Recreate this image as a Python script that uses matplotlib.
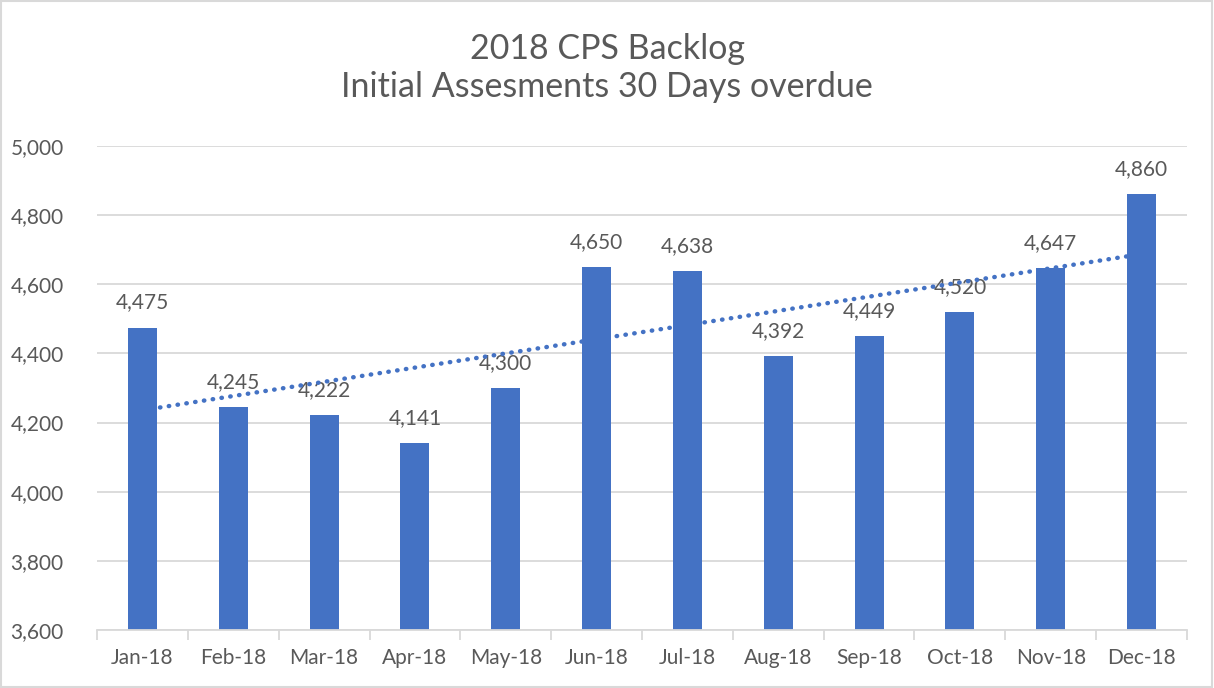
import matplotlib
matplotlib.use("Agg")
import matplotlib.pyplot as plt
import numpy as np
from matplotlib.patches import Rectangle

categories = ["Jan-18", "Feb-18", "Mar-18", "Apr-18", "May-18", "Jun-18",
              "Jul-18", "Aug-18", "Sep-18", "Oct-18", "Nov-18", "Dec-18"]
values = [4475, 4245, 4222, 4141, 4300, 4650, 4638, 4392, 4449, 4520, 4647, 4860]
yticks = [3600, 3800, 4000, 4200, 4400, 4600, 4800, 5000]
title = "2018 CPS Backlog\nInitial Assesments 30 Days overdue"

plt.rcParams['font.family'] = ['Lato', 'DejaVu Sans']
text_color = "#595959"
bar_color = "#4472C4"
grid_color = "#D9D9D9"

fig = plt.figure(figsize=(12.14, 6.88), dpi=100)
ax = fig.add_axes([97/1214, 1-630/688, (1187-97)/1214, (630-146)/688])

x = np.arange(len(categories))
ax.bar(x, values, width=0.32, color=bar_color, zorder=2)
ax.set_xlim(-0.5, len(categories) - 0.5)
ax.set_ylim(yticks[0], yticks[-1])
ax.set_yticks(yticks)
ax.set_yticklabels([f"{v:,}" for v in yticks])
ax.yaxis.grid(True, color=grid_color, linewidth=1.3, zorder=0)
ax.set_axisbelow(True)
ax.tick_params(axis='y', length=0, pad=24, labelsize=15, labelcolor=text_color)

ax.set_xticks(x)
ax.set_xticklabels(categories)
ax.tick_params(axis='x', length=0, pad=13, labelsize=15, labelcolor=text_color)
ax.set_xticks(np.arange(len(categories) + 1) - 0.5, minor=True)
ax.tick_params(axis='x', which='minor', length=7, color=grid_color, width=1.3)

for s in ['top', 'right', 'left']:
    ax.spines[s].set_visible(False)
ax.spines['bottom'].set_color(grid_color)
ax.spines['bottom'].set_linewidth(1.3)

for xi, v in zip(x, values):
    ax.annotate(f"{v:,}", (xi, v), xytext=(0, 11), textcoords='offset points',
                ha='center', va='bottom', fontsize=15, color=text_color, zorder=3)

coef = np.polyfit(x, values, 1)
trend = np.polyval(coef, x)
ax.plot(x, trend, linestyle=(0, (0.1, 1.9)), color=bar_color, linewidth=3.2,
        dash_capstyle='round', zorder=4)

fig.text(0.5, 1 - 68/688, title, ha='center', va='center', fontsize=24.5,
         color=text_color, linespacing=1.25)

fig.patches.append(Rectangle((0.001, 0.001), 0.997, 0.997, transform=fig.transFigure,
                             fill=False, edgecolor=grid_color, linewidth=1.5))

fig.savefig("out.png", dpi=100)
